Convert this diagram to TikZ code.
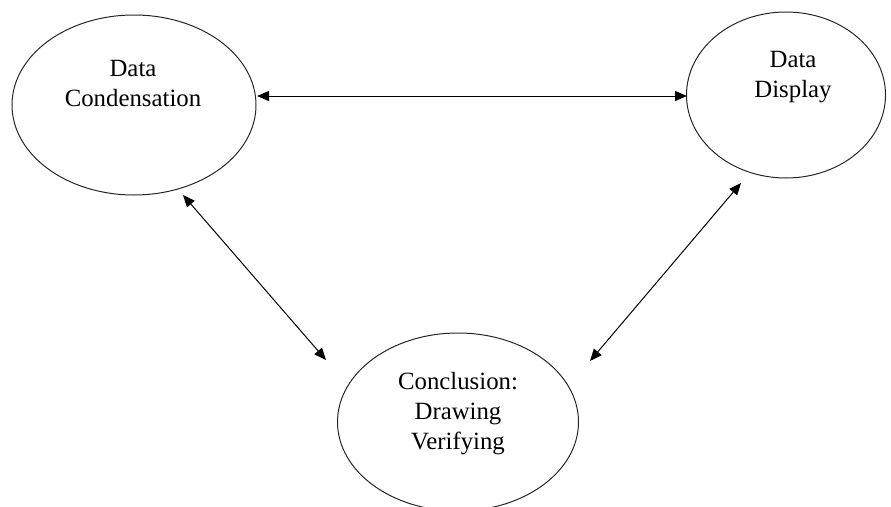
\documentclass[tikz,border=0pt]{standalone}
\usepackage{fontspec}
\setmainfont{Liberation Serif}
\usetikzlibrary{shapes.geometric,arrows.meta}
\begin{document}
\begin{tikzpicture}[x=1pt,y=-1pt,
  oval/.style={draw=black!85,line width=1pt,ellipse,inner sep=0pt},
  lbl/.style={align=center,font=\fontsize{24.8}{30}\selectfont,inner sep=0pt},
  link/.style={line width=1pt,{Triangle[length=12pt,width=10pt]}-{Triangle[length=12pt,width=10pt]}}]
\useasboundingbox (0,0) rectangle (891,506);
\clip (0,0) rectangle (891,506);
\node[oval,minimum width=244pt,minimum height=180pt] (cond) at (134,105) {};
\node[oval,minimum width=199pt,minimum height=166pt] (disp) at (786,95) {};
\node[oval,minimum width=241pt,minimum height=178pt] (concl) at (458,422) {};
\node[lbl] (tcond) at (133,83) {Data\\Condensation};
\node[lbl] (tdisp) at (793,77) {Data\\Display};
\node[lbl] (tconcl) at (458,414) {Conclusion:\\Drawing\\Verifying};
\coordinate (a1) at (257,96);
\coordinate (a2) at (687,96);
\coordinate (b1) at (183,195);
\coordinate (b2) at (326,360);
\coordinate (c1) at (741,183);
\coordinate (c2) at (590,361);
\draw[link] (a1) -- (a2);
\draw[link] (b1) -- (b2);
\draw[link] (c1) -- (c2);
\end{tikzpicture}
\end{document}
